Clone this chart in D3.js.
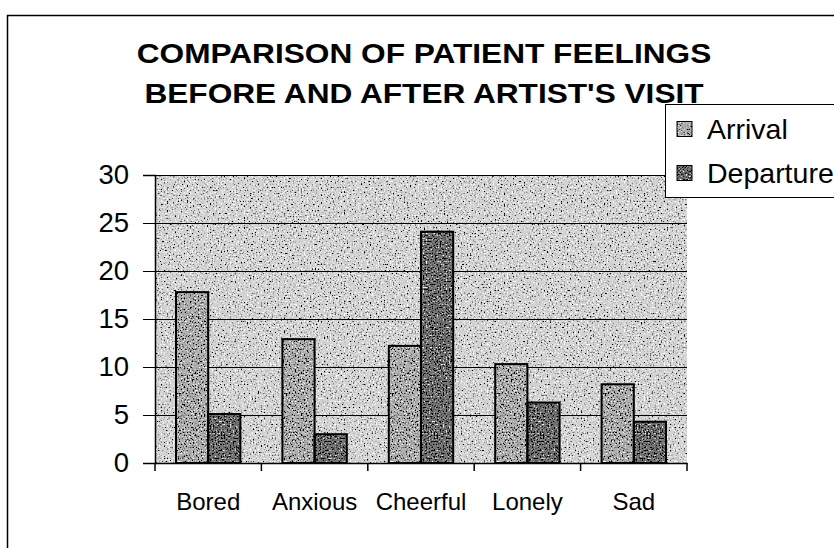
<!DOCTYPE html>
<html>
<head>
<meta charset="utf-8">
<script src="https://cdn.jsdelivr.net/npm/d3@7"></script>
<style>
  body { margin: 0; background: #fff; }
  svg text { font-family: "Liberation Sans", Arial, sans-serif; fill: #000; }
</style>
</head>
<body>
<div id="chart"></div>
<script>
// data
const categories = ['Bored', 'Anxious', 'Cheerful', 'Lonely', 'Sad'];
const seriesNames = ['Arrival', 'Departure'];
const arrival = [17.8, 12.9, 12.2, 10.3, 8.2];
const departure = [5.1, 3.0, 24.1, 6.3, 4.3];
const yTicks = [0, 5, 10, 15, 20, 25, 30];
const titleLines = ['COMPARISON OF PATIENT FEELINGS', "BEFORE AND AFTER ARTIST'S VISIT"];

const W = 834, H = 548;
const margin = { top: 175, right: 147, bottom: 85, left: 155 };
const width = W - margin.left - margin.right;
const height = H - margin.top - margin.bottom;

const svg = d3.select('#chart').append('svg')
  .attr('width', W)
  .attr('height', H);

// speckled fills, like the scanned print
const defs = svg.append('defs');
const speckle = (id, dark, light, seed) => {
  const f = defs.append('filter').attr('id', id)
    .attr('x', 0).attr('y', 0).attr('width', 1).attr('height', 1);
  f.append('feTurbulence').attr('type', 'fractalNoise').attr('baseFrequency', 0.65)
    .attr('numOctaves', 1).attr('seed', seed).attr('result', 'noise');
  f.append('feColorMatrix').attr('in', 'noise').attr('type', 'matrix')
    .attr('values', `0 0 0 0 0  0 0 0 0 0  0 0 0 0 0  ${dark[0]} 0 0 0 ${dark[1]}`)
    .attr('result', 'blk');
  f.append('feColorMatrix').attr('in', 'noise').attr('type', 'matrix')
    .attr('values', `0 0 0 0 1  0 0 0 0 1  0 0 0 0 1  ${light[0]} 0 0 0 ${light[1]}`)
    .attr('result', 'wht');
  const m = f.append('feMerge').attr('result', 'dots');
  m.append('feMergeNode').attr('in', 'blk');
  m.append('feMergeNode').attr('in', 'wht');
  f.append('feComposite').attr('in', 'dots').attr('in2', 'SourceGraphic').attr('operator', 'atop');
};
speckle('spk-bg', [7, -4.1], [-7, 3.0], 3);
speckle('spk-arr', [7, -3.7], [-7, 2.8], 7);
speckle('spk-dep', [7, -3.5], [-7, 2.6], 11);

// outer chart frame
svg.append('rect')
  .attr('x', 7.5).attr('y', 15.5)
  .attr('width', W).attr('height', H)
  .attr('fill', 'none').attr('stroke', '#000').attr('stroke-width', 1.5);

// the scanned title is wider than Arial at its height, so stretch it a little
const title = svg.append('text')
  .attr('transform', 'translate(424,0) scale(1.13,1)')
  .attr('text-anchor', 'middle')
  .style('font-weight', 'bold')
  .style('font-size', '28px');
titleLines.forEach((t, i) => {
  title.append('tspan').attr('x', 0).attr('y', 63 + i * 40).text(t);
});

const g = svg.append('g')
  .attr('transform', `translate(${margin.left},${margin.top})`);

const x0 = d3.scaleBand().domain(categories).range([0, width]).padding(0);
const x1 = d3.scaleBand().domain(seriesNames).range([21, x0.bandwidth() - 21]).padding(0);
const y = d3.scaleLinear().domain([0, 30]).range([height, 0]);

g.append('rect')
  .attr('width', width).attr('height', height)
  .attr('fill', '#d2d2d2')
  .attr('filter', 'url(#spk-bg)');

g.append('g')
  .selectAll('line')
  .data(yTicks.filter(d => d > 0))
  .enter()
  .append('line')
  .attr('x1', 0).attr('x2', width)
  .attr('y1', d => Math.round(y(d)) + 0.5).attr('y2', d => Math.round(y(d)) + 0.5)
  .attr('stroke', '#000').attr('stroke-width', 1);

const rows = categories.map((c, i) => ({ cat: c, values: [arrival[i], departure[i]] }));
const fills = ['#b0b0b0', '#767676'];
const filters = ['url(#spk-arr)', 'url(#spk-dep)'];

const groups = g.append('g')
  .selectAll('g')
  .data(rows)
  .enter()
  .append('g')
  .attr('transform', d => `translate(${x0(d.cat)},0)`);

groups.selectAll('rect.fill')
  .data(d => d.values.map((v, j) => ({ s: seriesNames[j], v, j })))
  .enter()
  .append('rect')
  .attr('class', 'fill')
  .attr('x', d => x1(d.s))
  .attr('y', d => y(d.v))
  .attr('width', x1.bandwidth())
  .attr('height', d => height - y(d.v))
  .attr('fill', d => fills[d.j])
  .attr('filter', d => filters[d.j]);

groups.selectAll('rect.edge')
  .data(d => d.values.map((v, j) => ({ s: seriesNames[j], v, j })))
  .enter()
  .append('rect')
  .attr('class', 'edge')
  .attr('x', d => x1(d.s))
  .attr('y', d => y(d.v))
  .attr('width', x1.bandwidth())
  .attr('height', d => height - y(d.v))
  .attr('fill', 'none')
  .attr('stroke', '#000')
  .attr('stroke-width', 2);

const yAxis = g.append('g')
  .call(d3.axisLeft(y).tickValues(yTicks).tickSize(12).tickPadding(14));
yAxis.select('.domain').attr('stroke', '#000').attr('stroke-width', 1.5);
yAxis.selectAll('text').style('font-size', '27.5px').attr('fill', '#000');

const xAxis = g.append('g')
  .attr('transform', `translate(0,${height})`)
  .call(d3.axisBottom(x0).tickSize(0).tickPadding(30));
xAxis.select('.domain').attr('stroke', '#000').attr('stroke-width', 1.5);
xAxis.selectAll('text').style('font-size', '24px').attr('fill', '#000');

// category divider ticks under the axis
g.append('g')
  .selectAll('line')
  .data(categories.concat(['end']))
  .enter()
  .append('line')
  .attr('x1', (d, i) => i * x0.bandwidth()).attr('x2', (d, i) => i * x0.bandwidth())
  .attr('y1', height).attr('y2', height + 8)
  .attr('stroke', '#000').attr('stroke-width', 1.5);

// legend box runs past the right edge like the reference
const legend = svg.append('g').attr('transform', 'translate(665,104)');
legend.append('rect')
  .attr('x', 0.5).attr('y', 0.5)
  .attr('width', 200).attr('height', 93)
  .attr('fill', '#fff').attr('stroke', '#000').attr('stroke-width', 1);
seriesNames.forEach((s, j) => {
  const item = legend.append('g').attr('transform', `translate(12,${25 + j * 44})`);
  item.append('rect')
    .attr('x', 0).attr('y', -7.5).attr('width', 15).attr('height', 15)
    .attr('fill', fills[j]).attr('filter', filters[j]);
  item.append('rect')
    .attr('x', 0).attr('y', -7.5).attr('width', 15).attr('height', 15)
    .attr('fill', 'none').attr('stroke', '#000').attr('stroke-width', 1);
  item.append('text')
    .attr('x', 30).attr('y', 0).attr('dy', '0.36em')
    .style('font-size', '28.5px')
    .text(s);
});
</script>
</body>
</html>
